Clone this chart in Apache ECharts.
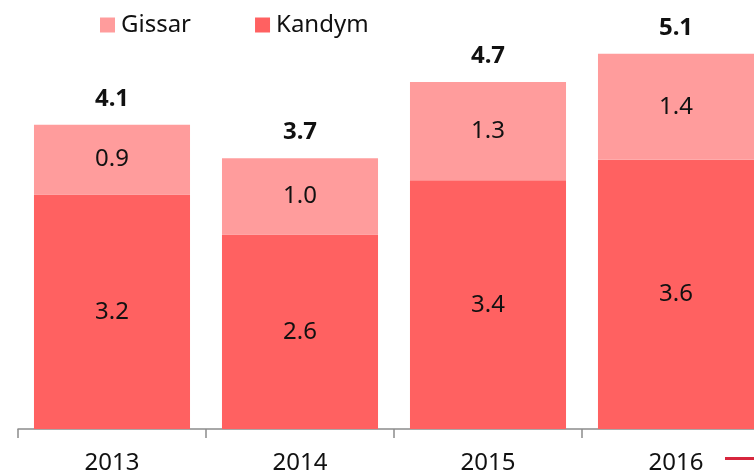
<!DOCTYPE html>
<html>
<head>
<meta charset="utf-8">
<script src="https://cdn.jsdelivr.net/npm/echarts@6/dist/echarts.min.js"></script>
<style>
  html, body { margin: 0; padding: 0; background: #fff; overflow: hidden; }
  /* the original is cropped on the right: the last category runs past the edge */
  #chart { width: 770px; height: 475px; }
</style>
</head>
<body>
<div id="chart"></div>
<script>
// data
const years = ['2013', '2014', '2015', '2016']
const kandym = [3.17, 2.63, 3.36, 3.64]
const gissar = [0.94, 1.03, 1.33, 1.43]
const totals = kandym.map((v, i) => v + gissar[i])

const FONT = 'Noto Sans'

const chart = echarts.init(document.getElementById('chart'))

chart.setOption({
  animation: false,
  legend: {
    data: ['Gissar', 'Kandym'],
    left: 95,
    top: 8,
    icon: 'rect',
    itemWidth: 15,
    itemHeight: 15,
    itemGap: 64,
    textStyle: { fontFamily: FONT, fontSize: 24, color: '#111', padding: [0, 0, 0, 1] }
  },
  grid: {
    left: 18,
    top: 22,
    right: 0,
    height: 407
  },
  xAxis: {
    type: 'category',
    data: years,
    axisLine: { lineStyle: { color: '#8c8c8c', width: 1.5 } },
    axisTick: { show: true, length: 9, lineStyle: { color: '#8c8c8c', width: 1.5 } },
    axisLabel: { fontFamily: FONT, fontSize: 24, color: '#111', margin: 22 }
  },
  yAxis: {
    type: 'value',
    min: 0,
    max: 5.5,
    show: false,
    splitLine: { show: false }
  },
  series: [
    {
      name: 'Kandym',
      type: 'bar',
      stack: 'gas',
      barCategoryGap: '17%',
      data: kandym,
      itemStyle: { color: '#ff6161' },
      label: {
        show: true,
        position: 'inside',
        fontFamily: FONT,
        fontSize: 24,
        color: '#111',
        formatter: p => p.value.toFixed(1)
      }
    },
    {
      name: 'Gissar',
      type: 'bar',
      stack: 'gas',
      data: gissar,
      itemStyle: { color: '#ff9c9c' },
      label: {
        show: true,
        position: 'inside',
        fontFamily: FONT,
        fontSize: 24,
        color: '#111',
        formatter: p => p.value.toFixed(1)
      }
    },
    {
      // totals on top of the stack
      name: 'Total',
      type: 'bar',
      stack: 'gas',
      data: totals.map(() => 0),
      itemStyle: { color: 'transparent' },
      label: {
        show: true,
        position: 'top',
        distance: 14,
        fontFamily: FONT,
        fontSize: 24,
        fontWeight: 'bold',
        color: '#111',
        formatter: p => totals[p.dataIndex].toFixed(1)
      }
    }
  ],
  graphic: [
    {
      type: 'rect',
      left: 725,
      top: 457,
      shape: { width: 29, height: 3 },
      style: { fill: '#d7263d' }
    }
  ]
})
</script>
</body>
</html>
